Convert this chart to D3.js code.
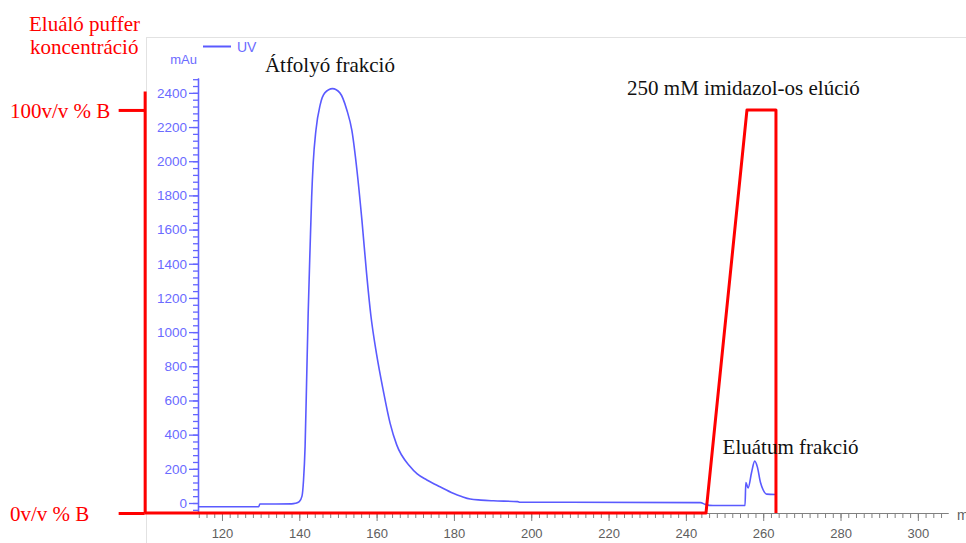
<!DOCTYPE html>
<html lang="hu">
<head>
<meta charset="UTF-8">
<title>Kromatogram</title>
<script src="https://d3js.org/d3.v7.min.js"></script>
<style>
  body { margin: 0; background: #fff; }
  .serif { font-family: "Liberation Serif", "Times New Roman", serif; }
  .sans { font-family: "Liberation Sans", Arial, sans-serif; }
</style>
</head>
<body>
<svg width="966" height="543"></svg>
<script>
// UV jel (mAu) a térfogat (ml) függvényében
const uvVolume = [113.8, 129.5, 129.8, 138, 139, 140, 140.7, 141.1, 141.5, 141.9, 142.3, 142.8, 143.2, 143.6, 144.3,
  145.4, 146.6, 148.6, 150.5, 152.3, 153.6, 154.9, 156.2, 157.4, 158.5, 160, 161.7, 163.5, 165.2, 168.6, 170.5,
  173, 176.4, 179.8, 182, 184.2, 187, 190.2, 196.5, 197.1, 210, 243.8, 245, 247, 255.3, 255.5, 256.1, 257,
  257.8, 258.5, 259.3, 260, 260.9, 263.2];
const uvValue = [-22, -22, -6, -5, -2, 8, 40, 135, 330, 720, 1110, 1500, 1790, 1990, 2180,
  2330, 2400, 2425, 2400, 2300, 2180, 1950, 1655, 1345, 1100, 870, 661, 466, 340, 215, 170,
  135, 95, 57, 38, 23, 17, 13, 8, 4, 4, 2, -8, -15, -15, 120, 88, 180,
  245, 210, 120, 76, 52, 50];

// Eluáló puffer gradiens (% B)
const gradVolume = [100, 245.2, 255.8, 263.3, 263.3];
const gradPercent = [0, 0, 100, 100, 0];

const xMajorTicks = [120, 140, 160, 180, 200, 220, 240, 260, 280, 300];
const yMajorTicks = [0, 200, 400, 600, 800, 1000, 1200, 1400, 1600, 1800, 2000, 2200, 2400];
const pctTicks = [0, 100];
const pctLabels = ["0v/v % B", "100v/v % B"];

const annotations = [
  { text: "Átfolyó frakció", vol: 131.1, mau: 2520 },
  { text: "250 mM imidazol-os elúció", vol: 224.8, mau: 2385 },
  { text: "Eluátum frakció", vol: 249.5, mau: 287 }
];

const svg = d3.select("svg");
const blue = "#5a5aff";
const red = "#ff0000";

const x = d3.scaleLinear().domain([113.8, 307.8]).range([198, 948]);
const y = d3.scaleLinear().domain([-58.5, 2487]).range([513, 78]);
const pct = d3.scaleLinear().domain([0, 104.7]).range([513, 91]);

// panel keret
svg.append("rect")
  .attr("x", 146.5).attr("y", 37.5)
  .attr("width", 900).attr("height", 600)
  .attr("fill", "none").attr("stroke", "#e2e2e2");

// x tengely
const gx = svg.append("g").attr("class", "sans").attr("transform", "translate(0,513)");
gx.call(d3.axisBottom(x).tickValues(d3.range(114, 308, 2)).tickSize(5).tickSizeOuter(0).tickFormat(""));
gx.append("g").call(d3.axisBottom(x).tickValues(xMajorTicks).tickSize(8).tickPadding(8).tickSizeOuter(0)
  .tickFormat(d3.format("d")));
gx.selectAll("path,line").attr("stroke", "#808080");
gx.selectAll("text").attr("fill", "#5e5e5e").style("font-size", "13px");
svg.append("text").attr("class", "sans")
  .attr("x", 957).attr("y", 520)
  .attr("fill", "#5e5e5e").style("font-size", "14px")
  .text("ml");

// y tengely (UV)
const gy = svg.append("g").attr("class", "sans").attr("transform", "translate(198,0)");
gy.call(d3.axisLeft(y).tickValues(d3.range(-40, 2481, 40)).tickSize(5).tickSizeOuter(0).tickFormat(""));
gy.append("g").call(d3.axisLeft(y).tickValues(yMajorTicks).tickSize(9).tickPadding(2).tickSizeOuter(0)
  .tickFormat(d3.format("d")));
gy.selectAll("path,line").attr("stroke", "#6464ff").attr("stroke-width", 1.3);
gy.selectAll("text").attr("fill", "#6b6bff").style("font-size", "13.5px");

svg.append("text").attr("class", "sans")
  .attr("x", 197).attr("y", 64).attr("text-anchor", "end")
  .attr("fill", "#6b6bff").style("font-size", "13px").text("mAu");

// jelmagyarázat
svg.append("line")
  .attr("x1", 203).attr("x2", 231).attr("y1", 46.5).attr("y2", 46.5)
  .attr("stroke", blue).attr("stroke-width", 2);
svg.append("text").attr("class", "sans")
  .attr("x", 237).attr("y", 52)
  .attr("fill", "#6b6bff").style("font-size", "14px").text("UV");

// UV görbe
const uvData = uvVolume.map((v, i) => ({ vol: v, mau: uvValue[i] }));
svg.append("path")
  .datum(uvData)
  .attr("fill", "none")
  .attr("stroke", blue)
  .attr("stroke-width", 1.6)
  .attr("d", d3.line().x(d => x(d.vol)).y(d => y(d.mau)).curve(d3.curveMonotoneX));

// % B tengely
const gp = svg.append("g").attr("class", "serif").attr("transform", `translate(${x(100)},0)`);
gp.call(d3.axisLeft(pct).tickValues(pctTicks).tickSize(26).tickSizeOuter(0)
  .tickFormat((d, i) => pctLabels[i]));
gp.selectAll("path,line").attr("stroke", red).attr("stroke-width", 3);
gp.selectAll("text")
  .attr("fill", red)
  .attr("text-anchor", "start")
  .attr("x", 10 - x(100))
  .attr("dy", "0.35em")
  .style("font-size", "21px");

// gradiens
const gradData = gradVolume.map((v, i) => ({ vol: v, p: gradPercent[i] }));
svg.append("path")
  .datum(gradData)
  .attr("fill", "none")
  .attr("stroke", red)
  .attr("stroke-width", 3)
  .attr("stroke-linejoin", "round")
  .attr("d", d3.line().x(d => x(d.vol)).y(d => pct(d.p)));

// tengelycím
const title = svg.append("text").attr("class", "serif")
  .attr("fill", red).style("font-size", "21px");
title.append("tspan").attr("x", 29).attr("y", 31).text("Eluáló puffer");
title.append("tspan").attr("x", 30).attr("y", 54).text("koncentráció");

// feliratok
svg.selectAll(".annot")
  .data(annotations)
  .enter().append("text")
  .attr("class", "annot serif")
  .attr("x", d => x(d.vol))
  .attr("y", d => y(d.mau))
  .attr("fill", "#111")
  .style("font-size", "21px")
  .text(d => d.text);
</script>
</body>
</html>
